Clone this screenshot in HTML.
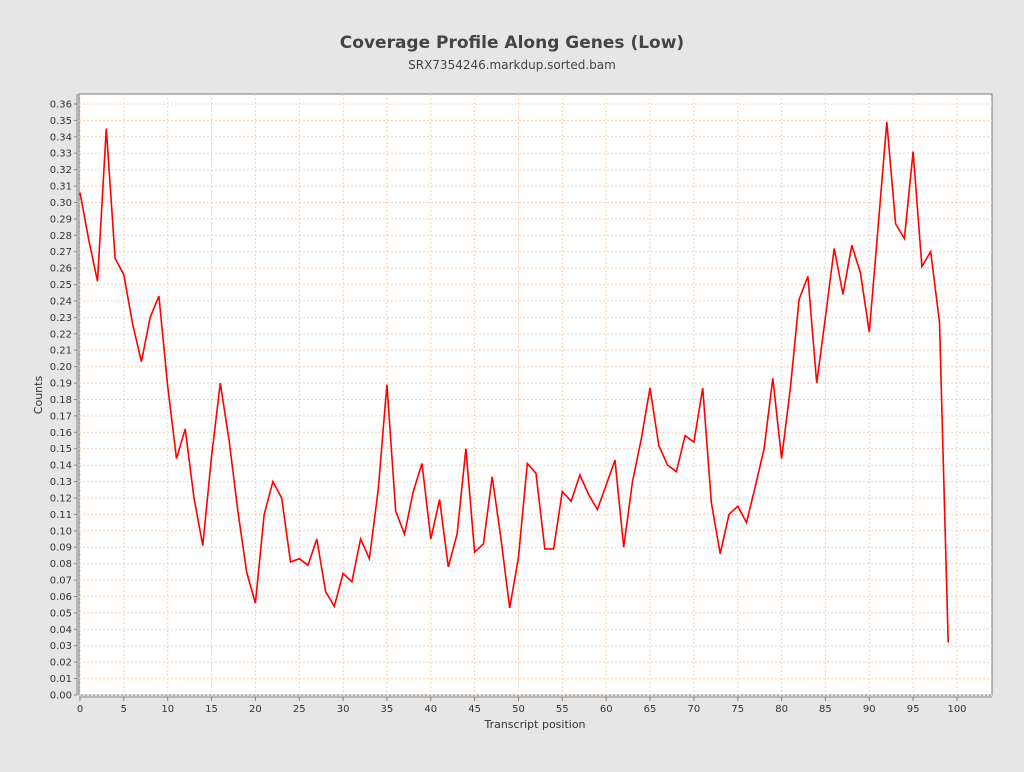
<!DOCTYPE html>
<html><head><meta charset="utf-8"><style>
body{margin:0;background:#e6e6e6;width:1024px;height:768px;overflow:hidden;font-family:"DejaVu Sans",sans-serif}
</style></head><body>
<svg id="s" width="1024" height="768" xmlns="http://www.w3.org/2000/svg" font-family="DejaVu Sans, sans-serif">
<text x="512" y="48" text-anchor="middle" font-size="17" font-weight="bold" fill="#444">Coverage Profile Along Genes (Low)</text>
<text x="512" y="69" text-anchor="middle" font-size="12" fill="#444">SRX7354246.markdup.sorted.bam</text>
<rect x="79" y="94" width="913" height="601" fill="#fff" stroke="#777" stroke-width="1"/>
<g id="g"></g>
<text x="0" y="0" transform="translate(42,395) rotate(-90)" text-anchor="middle" font-size="11" fill="#333">Counts</text>
<text x="535" y="728" text-anchor="middle" font-size="11" fill="#333">Transcript position</text>
</svg>
<script>
var v=[0.306,0.277,0.252,0.345,0.266,0.256,0.226,0.203,0.230,0.243,0.188,0.144,0.162,0.120,0.091,0.145,0.190,0.155,0.112,0.075,0.056,0.110,0.130,0.120,0.081,0.083,0.079,0.095,0.063,0.054,0.074,0.069,0.095,0.083,0.125,0.189,0.112,0.098,0.124,0.141,0.095,0.119,0.078,0.098,0.150,0.087,0.092,0.133,0.095,0.053,0.084,0.141,0.135,0.089,0.089,0.124,0.118,0.134,0.122,0.113,0.128,0.143,0.090,0.130,0.156,0.187,0.152,0.140,0.136,0.158,0.154,0.187,0.117,0.086,0.110,0.115,0.105,0.127,0.150,0.193,0.144,0.187,0.241,0.255,0.190,0.230,0.272,0.244,0.274,0.257,0.221,0.285,0.349,0.287,0.278,0.331,0.261,0.270,0.227,0.032];
function X(i){return 80+i*8.77}function Y(y){return 695-y*1641.7}
var h='';
for(var k=0;k<=36;k++){var y=Y(k/100).toFixed(1);
h+='<line x1="79" x2="992" y1="'+y+'" y2="'+y+'" stroke="#f3d2b8" stroke-dasharray="2,2" stroke-width="1"/>';
h+='<line x1="74" x2="77" y1="'+y+'" y2="'+y+'" stroke="#888"/>';
h+='<text x="72" y="'+(+y+3.5)+'" text-anchor="end" font-size="10" fill="#333">'+(k/100).toFixed(2)+'</text>';}
for(var i=0;i<=100;i+=5){var x=X(i).toFixed(1);
h+='<line y1="94" y2="695" x1="'+x+'" x2="'+x+'" stroke="#f3d2b8" stroke-dasharray="2,2" stroke-width="1"/>';
h+='<line y1="697" y2="701" x1="'+x+'" x2="'+x+'" stroke="#888"/>';
h+='<text x="'+x+'" y="712" text-anchor="middle" font-size="10" fill="#333">'+i+'</text>';}
h+='<line x1="77" x2="77" y1="94" y2="695" stroke="#888"/><line x1="79" x2="992" y1="697" y2="697" stroke="#888"/>';
var p=v.map(function(y,i){return X(i).toFixed(1)+','+Y(y).toFixed(1)}).join(' ');
h+='<polyline points="'+p+'" fill="none" stroke="#ff0000" stroke-width="1.6"/>';
document.getElementById('g').innerHTML=h;
</script>
</body></html>
